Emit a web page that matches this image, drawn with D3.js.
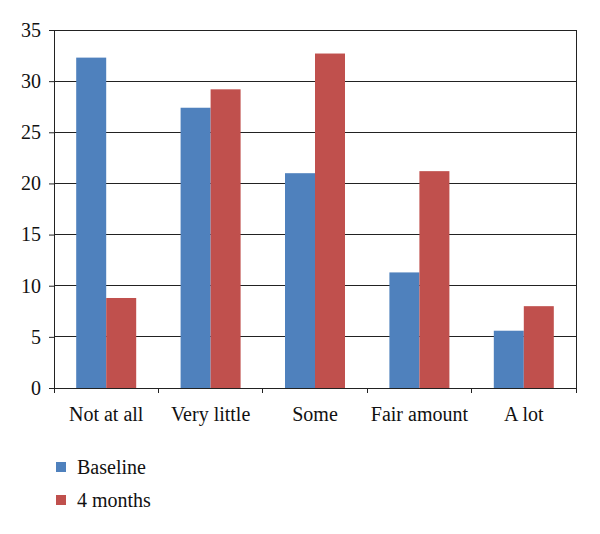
<!DOCTYPE html>
<html>
<head>
<meta charset="utf-8">
<script src="https://cdn.jsdelivr.net/npm/d3@7"></script>
<style>
  body { margin: 0; background: #fff; }
</style>
</head>
<body>
<script>
const categories = ['Not at all', 'Very little', 'Some', 'Fair amount', 'A lot']
const seriesNames = ['Baseline', '4 months']
const baseline = [32.3, 27.4, 21.0, 11.3, 5.6]
const fourMonths = [8.8, 29.2, 32.7, 21.2, 8.0]
const yTicks = [0, 5, 10, 15, 20, 25, 30, 35]
const colors = ['#4f81bd', '#c0504d']

const w = 600
const h = 534
const plotLeft = 54, plotRight = 576, plotTop = 30, plotBottom = 388
const fontFam = "'Times New Roman', 'Liberation Serif', serif"

const svg = d3.select('body')
    .append('svg')
    .attr('width', w)
    .attr('height', h)
    .attr('font-family', fontFam)

const x0 = d3.scaleBand().domain(categories).range([plotLeft, plotRight])
const x1 = d3.scaleBand().domain(seriesNames)
    .range([0, x0.bandwidth()])
    .paddingOuter(0.74)
const y = d3.scaleLinear().domain([0, 35]).range([plotBottom, plotTop])

// gridlines
svg.append('g')
    .selectAll('line')
    .data(yTicks.filter(d => d > 0))
    .enter().append('line')
    .attr('x1', plotLeft).attr('x2', plotRight)
    .attr('y1', d => y(d)).attr('y2', d => y(d))
    .attr('stroke', '#222')
    .attr('stroke-width', 1)
    .attr('shape-rendering', 'crispEdges')

// right border
svg.append('line')
    .attr('x1', plotRight).attr('x2', plotRight)
    .attr('y1', plotTop).attr('y2', plotBottom)
    .attr('stroke', '#222')
    .attr('shape-rendering', 'crispEdges')

const data = categories.map((c, i) => ({ cat: c, vals: [baseline[i], fourMonths[i]] }))

const groups = svg.append('g')
    .selectAll('g')
    .data(data)
    .enter().append('g')
    .attr('transform', d => `translate(${x0(d.cat)},0)`)

groups.selectAll('rect')
    .data(d => d.vals.map((v, j) => ({ name: seriesNames[j], v: v, j: j })))
    .enter().append('rect')
    .attr('x', d => x1(d.name))
    .attr('width', x1.bandwidth())
    .attr('y', d => y(d.v))
    .attr('height', d => plotBottom - y(d.v))
    .attr('fill', d => colors[d.j])

// y axis
const yAxis = svg.append('g')
    .attr('transform', `translate(${plotLeft},0)`)
    .call(d3.axisLeft(y).tickValues(yTicks).tickSize(5).tickPadding(8))
    .attr('font-family', fontFam)
    .attr('font-size', 20)
yAxis.select('.domain').attr('stroke', '#222')
yAxis.selectAll('.tick line').attr('stroke', '#222')
yAxis.selectAll('text').attr('fill', '#111')

// x axis
const xAxis = svg.append('g')
    .attr('transform', `translate(0,${plotBottom})`)
    .call(d3.axisBottom(x0).tickSize(0).tickPadding(19))
    .attr('font-family', fontFam)
    .attr('font-size', 20)
xAxis.select('.domain').remove()
xAxis.selectAll('text').attr('fill', '#111')
svg.append('line')
    .attr('x1', plotLeft).attr('x2', plotRight)
    .attr('y1', plotBottom).attr('y2', plotBottom)
    .attr('stroke', '#222')
    .attr('shape-rendering', 'crispEdges')
svg.append('g')
    .selectAll('line')
    .data(categories.concat(['end']))
    .enter().append('line')
    .attr('x1', (d, i) => i < categories.length ? x0(d) : plotRight)
    .attr('x2', (d, i) => i < categories.length ? x0(d) : plotRight)
    .attr('y1', plotBottom).attr('y2', plotBottom + 5)
    .attr('stroke', '#222')
    .attr('shape-rendering', 'crispEdges')

// legend
const legend = svg.append('g')
    .attr('font-family', fontFam)
    .attr('font-size', 20)
    .selectAll('g')
    .data(seriesNames)
    .enter().append('g')
    .attr('transform', (d, i) => `translate(56,${467 + i * 33})`)
legend.append('rect')
    .attr('x', 0).attr('y', -5)
    .attr('width', 10).attr('height', 10)
    .attr('fill', (d, i) => colors[i])
legend.append('text')
    .attr('x', 21).attr('y', 0)
    .attr('dy', '0.35em')
    .attr('fill', '#111')
    .text(d => d)
</script>
</body>
</html>
